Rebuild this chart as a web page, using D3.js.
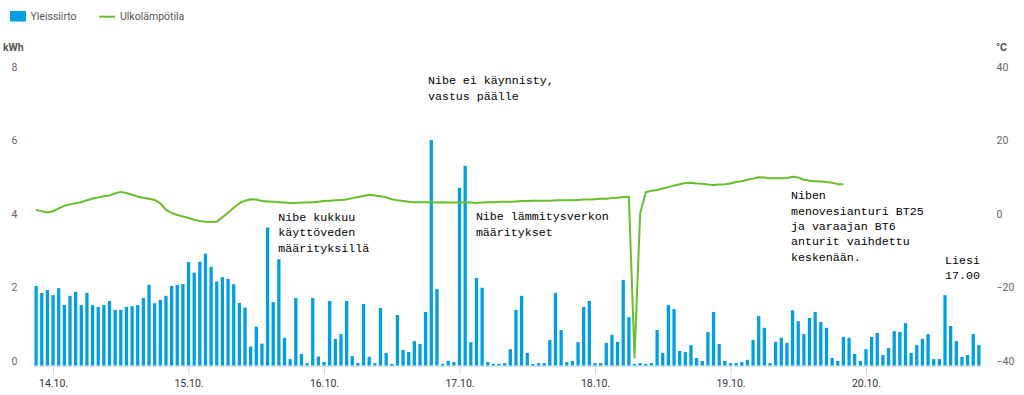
<!DOCTYPE html>
<html>
<head>
<meta charset="utf-8">
<script src="https://cdn.jsdelivr.net/npm/d3@7/dist/d3.min.js"></script>
<style>
  html, body { margin: 0; padding: 0; background: #fff; }
  svg { display: block; }
  text { font-family: Roboto, "Open Sans", sans-serif; }
  .ann { font-family: "Liberation Mono", "Courier New", monospace; font-size: 11.67px; fill: #000; }
</style>
</head>
<body>
<svg id="chart" width="1024" height="395"></svg>
<script>
// ---- data ----
const seriesNames = ["Yleissiirto", "Ulkolämpötila"];
// hourly energy (kWh), starting 13.10. 21:00
const energy = [
  2.17, 1.98, 2.06, 1.92, 2.11, 1.65, 1.90, 2.01, 1.65, 1.98, 1.65, 1.60, 1.65, 1.76, 1.52, 1.52,
  1.60, 1.62, 1.65, 1.84, 2.20, 1.70, 1.79, 1.90, 2.17, 2.20, 2.22, 2.82, 2.53, 2.83, 3.05, 2.69,
  2.29, 2.41, 2.36, 2.22, 1.71, 1.58, 0.52, 1.06, 0.60, 3.76, 1.73, 2.90, 0.76, 0.18, 1.84, 0.32,
  0.07, 1.84, 0.25, 0.10, 1.76, 0.73, 0.86, 1.76, 0.26, 0.07, 1.68, 0.24, 0.07, 1.57, 0.35, 0.05,
  1.38, 0.43, 0.37, 0.67, 0.59, 1.46, 6.14, 2.09, 0.05, 0.13, 0.10, 4.84, 5.44, 0.64, 2.39, 2.12,
  0.10, 0.05, 0.05, 0.07, 0.45, 1.52, 1.90, 0.35, 0.05, 0.07, 0.07, 0.70, 1.98, 0.97, 0.10, 0.13,
  0.64, 1.60, 1.76, 0.07, 0.07, 0.62, 0.84, 0.65, 2.33, 1.32, 0.05, 0.07, 0.05, 0.07, 0.97, 0.35,
  1.65, 1.54, 0.40, 0.37, 0.56, 0.21, 0.13, 0.92, 1.46, 0.59, 0.13, 0.07, 0.07, 0.10, 0.16, 0.70,
  1.35, 1.03, 0.07, 0.65, 0.76, 0.62, 1.51, 1.21, 0.86, 1.30, 1.46, 1.19, 1.03, 0.21, 0.13, 0.78,
  0.76, 0.32, 0.13, 0.45, 0.78, 0.89, 0.29, 0.48, 0.94, 0.92, 1.16, 0.35, 0.56, 0.73, 0.86, 0.18,
  0.18, 1.92, 1.08, 0.67, 0.24, 0.29, 0.86, 0.56
];
// hourly outdoor temperature (°C), same start hour
const temperature = [
  2.4, 2.0, 1.7, 2.0, 2.8, 3.5, 3.9, 4.2, 4.5, 5.0, 5.5, 5.8, 6.1, 6.3, 6.9, 7.3,
  7.0, 6.5, 6.0, 5.7, 5.4, 5.1, 4.2, 2.4, 1.6, 1.0, 0.6, 0.2, -0.3, -0.6, -0.8, -0.9,
  -0.8, 0.4, 1.6, 3.0, 4.2, 4.9, 5.3, 5.2, 4.8, 4.7, 4.6, 4.5, 4.4, 4.3, 4.3, 4.4,
  4.4, 4.5, 4.6, 4.8, 4.9, 5.0, 5.1, 5.2, 5.6, 5.9, 6.2, 6.5, 6.3, 6.1, 5.8, 5.3,
  5.0, 4.8, 4.6, 4.5, 4.5, 4.5, 4.5, 4.4, 4.5, 4.4, 4.4, 4.4, 4.4, 4.4, 4.3, 4.4,
  4.5, 4.5, 4.6, 4.6, 4.6, 4.7, 4.8, 4.8, 4.9, 4.9, 4.9, 4.9, 5.0, 5.0, 5.0, 5.0,
  5.1, 5.2, 5.2, 5.3, 5.4, 5.4, 5.6, 5.7, 5.9, 6.0, -37.8, 1.5, 7.2, 7.6, 7.8, 8.2,
  8.6, 9.0, 9.4, 9.7, 9.8, 9.6, 9.5, 9.3, 9.2, 9.3, 9.4, 9.6, 10.0, 10.2, 10.6, 10.9,
  11.3, 11.2, 11.0, 11.0, 11.0, 11.1, 11.4, 11.2, 10.6, 10.3, 10.2, 10.1, 10.0, 9.8, 9.4, 9.4
];
const dayLabels = ["14.10.", "15.10.", "16.10.", "17.10.", "18.10.", "19.10.", "20.10."];
const dayStartHours = [3, 27, 51, 75, 99, 123, 147];
const kwhTicks = [0, 2, 4, 6, 8];
const tempTicks = [-40, -20, 0, 20, 40];
// annotations: anchor hour (fractional) and kWh level of first line
const annHours = [69.9, 43.4, 78.4, 134.2, 161.5];
const annLevels = [7.77, 4.05, 4.07, 4.64, 2.88];
const annTexts = [
  ["Nibe ei käynnisty,", "vastus päälle"],
  ["Nibe kukkuu", "käyttöveden", "määrityksillä"],
  ["Nibe lämmitysverkon", "määritykset"],
  ["Niben", "menovesianturi BT25", "ja varaajan BT6", "anturit vaihdettu", "keskenään."],
  ["Liesi", "17.00"]
];

// ---- layout ----
const W = 1024, H = 395;
const plotL = 33.3, plotR = 981.7, plotB = 365.7, plotT = 71.7;
const barColor = "#009fe3", lineColor = "#66bf2b", axisColor = "#ccd6eb";

const svg = d3.select("#chart");
const idx = d3.range(energy.length);

const xBand = d3.scaleBand().domain(idx).range([plotL, plotR]).paddingInner(0.42).paddingOuter(0.21);
const xLin = d3.scaleLinear().domain([0, energy.length]).range([plotL, plotR]);
const yK = d3.scaleLinear().domain([0, 8]).range([plotB, plotT]);
const yT = d3.scaleLinear().domain([-40, 40]).range([plotB, plotT]);

// bars
svg.append("g").selectAll("rect").data(energy).join("rect")
  .attr("x", (d, i) => xBand(i))
  .attr("width", xBand.bandwidth())
  .attr("y", d => yK(d))
  .attr("height", d => yK(0) - yK(d))
  .attr("fill", barColor);

// temperature line
const line = d3.line()
  .x((d, i) => xLin(i + 0.5))
  .y(d => yT(d));
svg.append("path").datum(temperature)
  .attr("d", line)
  .attr("fill", "none")
  .attr("stroke", lineColor)
  .attr("stroke-width", 2)
  .attr("stroke-linejoin", "round");

// x axis
const xAxis = d3.axisBottom(xLin)
  .tickValues(dayStartHours.map(h => h + 0.5))
  .tickFormat((d, i) => dayLabels[i])
  .tickSize(9).tickPadding(4.5);
const gx = svg.append("g").attr("transform", `translate(0,${plotB})`).call(xAxis);
gx.select(".domain").attr("stroke", axisColor).attr("d", `M${plotL},0.5H${plotR}`);
gx.selectAll(".tick line").attr("stroke", axisColor);
gx.selectAll(".tick text").attr("fill", "#333").attr("font-size", "10.5px")
  .attr("font-family", "Roboto, sans-serif");

// left axis
const yAxisL = d3.axisLeft(yK).tickValues(kwhTicks).tickSize(0).tickPadding(0);
const gl = svg.append("g").attr("transform", `translate(17.5,-5)`).call(yAxisL);
gl.select(".domain").remove();
gl.selectAll(".tick text").attr("fill", "#666").attr("font-size", "10.5px")
  .attr("font-family", "Roboto, sans-serif");
svg.append("text").attr("x", 3).attr("y", 47).attr("dy", "0.35em")
  .attr("font-size", "10.5px").attr("font-weight", "bold").attr("fill", "#555").text("kWh");

// right axis
const yAxisR = d3.axisRight(yT).tickValues(tempTicks).tickSize(0).tickPadding(0);
const gr = svg.append("g").attr("transform", `translate(996.5,-5)`).call(yAxisR);
gr.select(".domain").remove();
gr.selectAll(".tick text").attr("fill", "#666").attr("font-size", "10.5px")
  .attr("font-family", "Roboto, sans-serif");
svg.append("text").attr("x", 996).attr("y", 47).attr("dy", "0.35em")
  .attr("font-size", "10.5px").attr("font-weight", "bold").attr("fill", "#555").text("°C");

// legend
const lg = svg.append("g");
lg.append("rect").attr("x", 10).attr("y", 11).attr("width", 16).attr("height", 10.5).attr("fill", barColor);
lg.append("text").attr("x", 30.5).attr("y", 16.7).attr("dy", "0.35em")
  .attr("font-size", "10.5px").attr("fill", "#555").text(seriesNames[0]);
lg.append("line").attr("x1", 99.3).attr("x2", 115).attr("y1", 16.7).attr("y2", 16.7)
  .attr("stroke", lineColor).attr("stroke-width", 2);
lg.append("text").attr("x", 120).attr("y", 16.7).attr("dy", "0.35em")
  .attr("font-size", "10.5px").attr("fill", "#555").text(seriesNames[1]);

// annotations
const lineH = 15.4;
annTexts.forEach((lines, a) => {
  const t = svg.append("text").attr("class", "ann")
    .attr("x", xLin(annHours[a])).attr("y", yK(annLevels[a]));
  lines.forEach((s, j) => {
    t.append("tspan").attr("x", xLin(annHours[a]))
      .attr("y", yK(annLevels[a]) + j * lineH).attr("dy", "0.35em").text(s);
  });
});
</script>
</body>
</html>
